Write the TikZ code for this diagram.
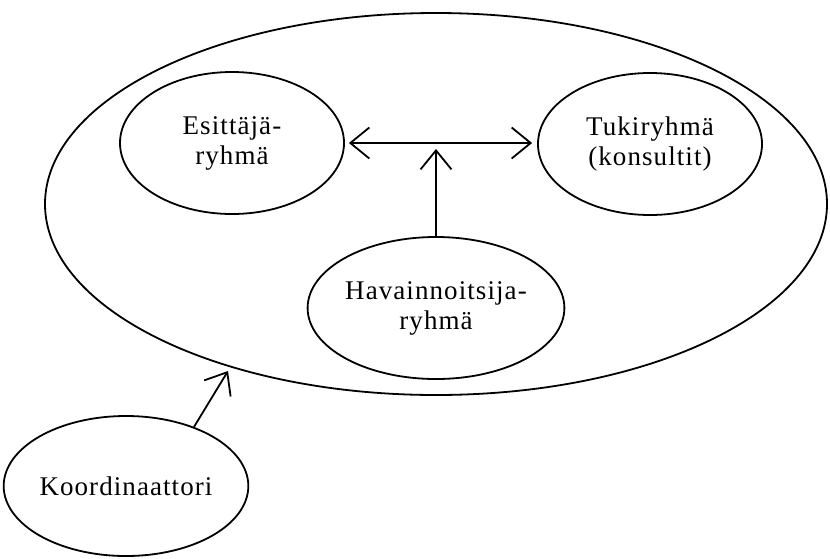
\documentclass[tikz,border=0pt]{standalone}
\usepackage{fontspec}
\setmainfont{Liberation Serif}[LetterSpace=4]
\usetikzlibrary{shapes.geometric,arrows.meta}
\begin{document}
\begin{tikzpicture}[x=1pt,y=-1pt,line width=1.8pt,
  grp/.style={ellipse,draw,inner sep=0pt},
  bubble/.style={ellipse,draw,minimum width=224pt,minimum height=142pt,inner sep=0pt,align=center,font=\fontsize{27}{30}\selectfont},
  barb/.tip={Straight Barb[length=19pt,width=31pt]},
  arr/.style={-barb},
  biarr/.style={barb-barb}]
\useasboundingbox (0,0) rectangle (830,558);
\node[grp,minimum width=782pt,minimum height=382pt] (grp) at (436,204) {};
\node[bubble] (esit) at (232,143) {Esittäjä-\\ryhmä};
\node[bubble] (tuki) at (650,144) {Tukiryhmä\\(konsultit)};
\node[bubble] (hav) at (436,308) {Havainnoitsija-\\ryhmä};
\node[bubble,minimum height=140pt] (koord) at (126,486) {Koordinaattori};
\coordinate (hmid) at (436,149);
\coordinate (kend) at (228,371);
\draw[biarr,shorten <=4pt,shorten >=5pt] (esit.east) -- (esit.east -| tuki.west);
\draw[arr] (hav) -- (hmid);
\draw[arr] (koord.41) -- (kend);
\end{tikzpicture}
\end{document}
